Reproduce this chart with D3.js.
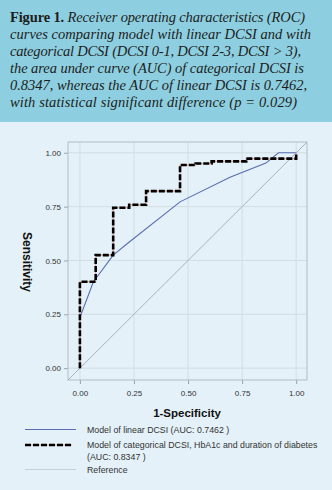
<!DOCTYPE html>
<html><head><meta charset="utf-8">
<script src="https://cdn.jsdelivr.net/npm/d3@7"></script>
<style>body{margin:0;padding:0;overflow:hidden}svg{display:block}</style>
</head><body>
<script>
const captionLines = [
  [{t:"Figure 1. ", b:true},{t:"Receiver operating characteristics (ROC)", i:true}],
  [{t:"curves comparing model with linear DCSI and with", i:true}],
  [{t:"categorical DCSI (DCSI 0-1, DCSI 2-3, DCSI > 3),", i:true}],
  [{t:"the area under curve (AUC) of categorical DCSI is", i:true}],
  [{t:"0.8347, whereas the AUC of linear DCSI is 0.7462,", i:true}],
  [{t:"with statistical significant difference (p = 0.029)", i:true}]
];
const captionWidths = [295, 301, 291, 294, 297, 287];
const tickValues = [0, 0.25, 0.5, 0.75, 1];
const tickLabels = ["0.00","0.25","0.50","0.75","1.00"];
// linear DCSI model ROC points (1-specificity, sensitivity)
const linearFpr = [0, 0, 0.062, 0.154, 0.224, 0.463, 0.694, 0.860, 0.918, 1.0];
const linearTpr = [0, 0.235, 0.40, 0.525, 0.582, 0.772, 0.886, 0.952, 1.0, 1.0];
// categorical model ROC step points
const catFpr = [0, 0, 0.073, 0.073, 0.154, 0.154, 0.228, 0.228, 0.306, 0.306, 0.463, 0.463, 0.535, 0.535, 0.609, 0.609, 0.769, 0.769, 1.0, 1.0];
const catTpr = [0, 0.401, 0.401, 0.525, 0.525, 0.745, 0.745, 0.759, 0.759, 0.822, 0.822, 0.943, 0.943, 0.950, 0.950, 0.960, 0.960, 0.973, 0.973, 1.0];
const legendItems = ["Model of linear DCSI (AUC: 0.7462 )", "Model of categorical DCSI, HbA1c and duration of diabetes", "(AUC: 0.8347 )", "Reference"];

const W = 332, H = 490;
const svg = d3.select("body").append("svg").attr("width", W).attr("height", H);
svg.append("rect").attr("width", W).attr("height", H).attr("fill", "#e4f1f8");
svg.append("rect").attr("width", W).attr("height", 122).attr("fill", "#8dcfe1");

// caption
captionLines.forEach((line, li) => {
  const cap = svg.append("text").attr("font-family", "'Liberation Serif', serif").attr("font-size", 14.5).attr("fill", "#1d1d1b")
    .attr("x", 10).attr("y", 22 + li * 17)
    .attr("textLength", captionWidths[li]).attr("lengthAdjust", "spacing");
  line.forEach(seg => {
    cap.append("tspan").text(seg.t)
      .attr("font-weight", seg.b ? "bold" : "normal")
      .attr("font-style", seg.i ? "italic" : "normal");
  });
});

const x = d3.scaleLinear().domain([-0.055, 1.05]).range([68, 307]);
const y = d3.scaleLinear().domain([-0.055, 1.05]).range([380, 142]);

// gridlines
const g = svg.append("g");
g.selectAll(".vg").data(tickValues).enter().append("line")
  .attr("x1", d => x(d)).attr("x2", d => x(d)).attr("y1", 142).attr("y2", 380)
  .attr("stroke", "#d3dde3").attr("stroke-width", 1);
g.selectAll(".hg").data(tickValues).enter().append("line")
  .attr("y1", d => y(d)).attr("y2", d => y(d)).attr("x1", 68).attr("x2", 307)
  .attr("stroke", "#d3dde3").attr("stroke-width", 1);

// axes
const xAxis = d3.axisBottom(x).tickValues(tickValues).tickFormat((d, i) => tickLabels[i]).tickSize(4).tickSizeOuter(0);
const yAxis = d3.axisLeft(y).tickValues(tickValues).tickFormat((d, i) => tickLabels[i]).tickSize(4).tickSizeOuter(0);
const gx = svg.append("g").attr("transform", "translate(0,380)").call(xAxis);
const gy = svg.append("g").attr("transform", "translate(68,0)").call(yAxis);
[gx, gy].forEach(a => {
  a.select(".domain").remove();
  a.selectAll(".tick line").attr("stroke", "#9aa3aa");
  a.selectAll(".tick text").attr("fill", "#333").attr("font-family", "'Liberation Sans', Arial, sans-serif").attr("font-size", 8);
});
gx.selectAll(".tick text").attr("dy", "1.1em");

// frame
svg.append("rect").attr("x", 68).attr("y", 142).attr("width", 239).attr("height", 238)
  .attr("fill", "none").attr("stroke", "#b3bcc3").attr("stroke-width", 1);

// reference diagonal
svg.append("line").attr("x1", x(-0.055)).attr("y1", y(-0.055)).attr("x2", x(1.05)).attr("y2", y(1.05))
  .attr("stroke", "#aab3b9").attr("stroke-width", 1);

const line = d3.line().x(d => x(d[0])).y(d => y(d[1]));
const linPts = linearFpr.map((v, i) => [v, linearTpr[i]]);
const catPts = catFpr.map((v, i) => [v, catTpr[i]]);

svg.append("path").datum(linPts).attr("d", line).attr("fill", "none").attr("stroke", "#5a6db3").attr("stroke-width", 1.1);
svg.append("path").datum(catPts).attr("d", line).attr("fill", "none").attr("stroke", "#e8a89a").attr("stroke-width", 1.2);
svg.append("path").datum(catPts).attr("d", line).attr("fill", "none").attr("stroke", "#000").attr("stroke-width", 2.6).attr("stroke-dasharray", "6,2");

// axis titles
svg.append("text").attr("x", 187).attr("y", 417).attr("text-anchor", "middle")
  .attr("font-family", "'Liberation Sans', Arial, sans-serif").attr("font-weight", "bold").attr("font-size", 11.5).attr("fill", "#111").text("1-Specificity");
svg.append("text").attr("transform", "translate(23,262) rotate(90)").attr("text-anchor", "middle")
  .attr("font-family", "'Liberation Sans', Arial, sans-serif").attr("font-weight", "bold").attr("font-size", 12).attr("fill", "#111").text("Sensitivity");

// legend
const lf = "'Liberation Sans', Arial, sans-serif";
svg.append("line").attr("x1", 25).attr("x2", 76).attr("y1", 429.5).attr("y2", 429.5).attr("stroke", "#5a6db3").attr("stroke-width", 1.1);
svg.append("line").attr("x1", 25).attr("x2", 72).attr("y1", 445).attr("y2", 445).attr("stroke", "#e8a89a").attr("stroke-width", 1.2);
svg.append("line").attr("x1", 25).attr("x2", 72).attr("y1", 445).attr("y2", 445).attr("stroke", "#000").attr("stroke-width", 2.6).attr("stroke-dasharray", "6,2");
svg.append("line").attr("x1", 25).attr("x2", 76).attr("y1", 469.5).attr("y2", 469.5).attr("stroke", "#c7cfd4").attr("stroke-width", 1);
const ly = [432.5, 448, 459.5, 472.5];
legendItems.forEach((t, i) => {
  svg.append("text").attr("x", 87).attr("y", ly[i]).attr("font-family", lf).attr("font-size", 8.8).attr("fill", "#333").text(t);
});
</script>
</body></html>
